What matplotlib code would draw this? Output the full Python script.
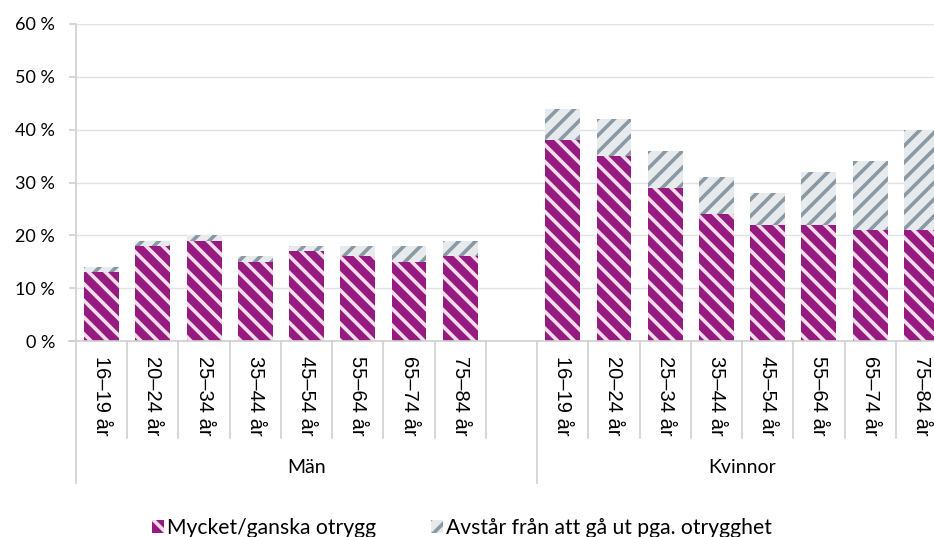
import matplotlib
matplotlib.use("Agg")
import matplotlib.pyplot as plt
import matplotlib.transforms as mtransforms
import numpy as np

# data (percent)
age_groups = ["16–19 år", "20–24 år", "25–34 år", "35–44 år",
              "45–54 år", "55–64 år", "65–74 år", "75–84 år"]
groups = ["Män", "Kvinnor"]
series_names = ["Mycket/ganska otrygg", "Avstår från att gå ut pga. otrygghet"]
man_otrygg = [13, 18, 19, 15, 17, 16, 15, 16]
man_avstar = [1, 1, 1, 1, 1, 2, 3, 3]
kvinna_otrygg = [38, 35, 29, 24, 22, 22, 21, 21]
kvinna_avstar = [6, 7, 7, 7, 6, 10, 13, 19]
yticks = [0, 10, 20, 30, 40, 50, 60]

purple = "#951B81"
pink = "#F3DDEA"
grey_bg = "#E7EBEE"
grey_hatch = "#8A99A3"
grid_col = "#E3E3E3"
axis_col = "#D0D0D0"

plt.rcParams["hatch.linewidth"] = 2.6

W, H = 934, 537
fig = plt.figure(figsize=(W / 100, H / 100), dpi=100)
# plot area in pixels (right edge is beyond the picture, as in the reference)
x0, x1, ytop, ybot = 76, 947, 24, 341
ax = fig.add_axes([x0 / W, 1 - ybot / H, (x1 - x0) / W, (ybot - ytop) / H])

n = len(age_groups)
pos_m = np.arange(n)
pos_k = np.arange(n) + n + 1
pos = np.concatenate([pos_m, pos_k])
otrygg = np.array(man_otrygg + kvinna_otrygg)
avstar = np.array(man_avstar + kvinna_avstar)

bw = 0.68
b1 = ax.bar(pos, otrygg, bw, color=purple, edgecolor=pink, hatch="\\\\", linewidth=0,
            label=series_names[0], zorder=2)
b2 = ax.bar(pos, avstar, bw, bottom=otrygg, color=grey_bg, edgecolor=grey_hatch, hatch="//",
            linewidth=0, label=series_names[1], zorder=2)

ax.set_xlim(-0.5, 2 * n + 0.5)
ax.set_ylim(0, 60)
ax.set_yticks(yticks)
ax.set_yticklabels([f"{v} %" for v in yticks], family="Lato", fontsize=13)
ax.yaxis.grid(True, color=grid_col, linewidth=1)
ax.set_axisbelow(True)
for s in ["top", "right"]:
    ax.spines[s].set_visible(False)
ax.spines["left"].set_color(axis_col)
ax.spines["bottom"].set_color(axis_col)
ax.spines["left"].set_linewidth(1.2)
ax.spines["bottom"].set_linewidth(1.2)
ax.tick_params(axis="y", length=5, color=axis_col, width=1.2, pad=10, labelcolor="#000000")

ax.set_xticks(pos)
ax.set_xticklabels(age_groups * 2, rotation=-90, family="Liberation Sans", fontsize=14.5,
                   va="top", ha="center")
ax.tick_params(axis="x", length=0, pad=11)

# category dividers below the axis
trans = mtransforms.blended_transform_factory(ax.transData, ax.transAxes)
ph = ybot - ytop
short = -(438 - ybot) / ph
long_ = -(483 - ybot) / ph
for k in range(2 * n + 2):
    xd = k - 0.5
    low = long_ if k in (0, n + 1) else short
    ax.plot([xd, xd], [0, low], color=axis_col, linewidth=1.2, transform=trans,
            clip_on=False, zorder=1)
# small extension of the baseline to the left
ax.plot([-0.5 - 7 / ((x1 - x0) / (2 * n + 1)), -0.5], [0, 0], color=axis_col,
        linewidth=1.2, transform=trans, clip_on=False)

# group labels
ylab = -(467 - ybot) / ph
ax.text(n / 2, ylab, groups[0], transform=trans, ha="center", va="center",
        family="Lato", fontsize=14)
ax.text(n + 1 + n / 2 - 0.5, ylab, groups[1], transform=trans, ha="center", va="center",
        family="Lato", fontsize=14)

fig.legend(handles=[b1, b2], loc="center", bbox_to_anchor=(462 / W, 1 - 528 / H),
           ncol=2, frameon=False, prop={"family": "Lato", "size": 15.2},
           handlelength=0.55, handleheight=0.55, handletextpad=0.15, columnspacing=2.6)

fig.savefig("out.png", dpi=100)
